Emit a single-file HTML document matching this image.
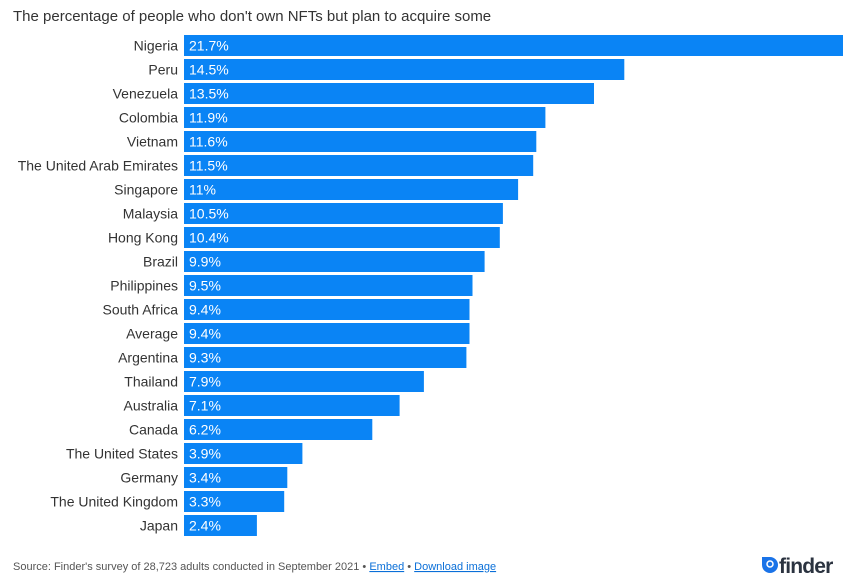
<!DOCTYPE html>
<html><head><meta charset="utf-8"><style>
body{margin:0;background:#fff;width:862px;height:581px;overflow:hidden;font-family:"Liberation Sans",Arial,sans-serif}
</style></head><body>
<svg width="862" height="581" xmlns="http://www.w3.org/2000/svg" font-family="Liberation Sans, Arial, sans-serif">
<text x="13" y="21" font-size="15" fill="#333">The percentage of people who don't own NFTs but plan to acquire some</text>
<g id="bars"></g>
<text x="13" y="570" font-size="11" fill="#555">Source: Finder's survey of 28,723 adults conducted in September 2021 • <tspan fill="#0a6fd8" text-decoration="underline">Embed</tspan> • <tspan fill="#0a6fd8" text-decoration="underline">Download image</tspan></text>
<circle cx="770" cy="565" r="8" fill="#1a73e8"/>
<rect x="762" y="557" width="8" height="8" fill="#1a73e8"/>
<circle cx="770" cy="564" r="3" fill="none" stroke="#fff" stroke-width="1.5"/>
<text x="779" y="573" font-size="21" font-weight="bold" fill="#2b3340" letter-spacing="-0.8">finder</text>
</svg>
<script>
var d=[["Nigeria",21.7,"21.7%"],["Peru",14.5,"14.5%"],["Venezuela",13.5,"13.5%"],["Colombia",11.9,"11.9%"],["Vietnam",11.6,"11.6%"],["The United Arab Emirates",11.5,"11.5%"],["Singapore",11,"11%"],["Malaysia",10.5,"10.5%"],["Hong Kong",10.4,"10.4%"],["Brazil",9.9,"9.9%"],["Philippines",9.5,"9.5%"],["South Africa",9.4,"9.4%"],["Average",9.4,"9.4%"],["Argentina",9.3,"9.3%"],["Thailand",7.9,"7.9%"],["Australia",7.1,"7.1%"],["Canada",6.2,"6.2%"],["The United States",3.9,"3.9%"],["Germany",3.4,"3.4%"],["The United Kingdom",3.3,"3.3%"],["Japan",2.4,"2.4%"]];
var g=document.getElementById("bars"),s="";
d.forEach(function(r,i){var y=35+24*i,w=r[1]*659/21.7;
s+='<rect x="184" y="'+y+'" width="'+w.toFixed(1)+'" height="21" fill="#0a84f5"/>';
s+='<text x="178" y="'+(y+15.5)+'" font-size="14" fill="#333" text-anchor="end">'+r[0]+'</text>';
s+='<text x="189" y="'+(y+15.5)+'" font-size="14" fill="#fff">'+r[2]+'</text>';});
g.innerHTML=s;
</script>
</body></html>
